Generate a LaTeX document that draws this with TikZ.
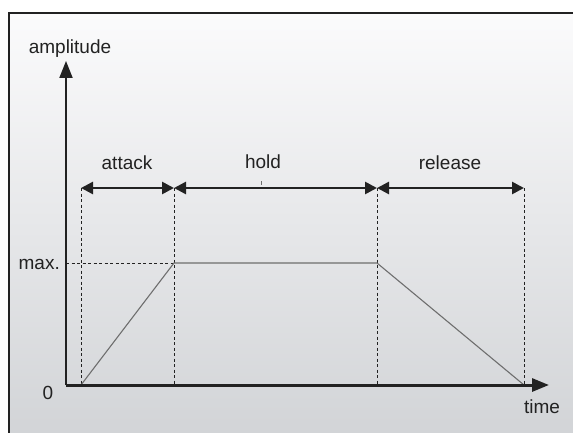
\documentclass[tikz,border=0pt]{standalone}
\usepackage{fontspec}
\setmainfont{Liberation Sans}
\usetikzlibrary{arrows.meta}
\definecolor{ink}{HTML}{222222}
\definecolor{env}{HTML}{6E6E6E}
\definecolor{bgtop}{HTML}{FBFBFC}
\definecolor{bgbot}{HTML}{D2D4D7}
\tikzset{
  lbl/.style={font=\fontsize{19}{22}\selectfont, text=ink, inner sep=0pt},
  axis/.style={draw=ink, -{Triangle[length=17pt,width=13pt]}},
  dim/.style={draw=ink, line width=2.6pt, {Triangle[length=12pt,width=12pt]}-{Triangle[length=12pt,width=12pt]}, shorten <=0pt, shorten >=0pt},
  guide/.style={draw=ink, line width=0.8pt, dash pattern=on 3pt off 2.5pt},
  envl/.style={draw=env, line width=1.1pt}
}
\begin{document}
\begin{tikzpicture}[x=1pt,y=-1pt]
\useasboundingbox (0,0) rectangle (573,433);
\shade[top color=bgtop, bottom color=bgbot] (9,13) rectangle (575,435);
\draw[draw=ink, line width=2.2pt] (575,13) -- (9,13) -- (9,435);
% key points
\coordinate (O) at (66,385);
\coordinate (ytip) at (66,61);
\coordinate (xtip) at (549,385);
\coordinate (p0) at (81,385);
\coordinate (p1) at (174,263);
\coordinate (p2) at (377,263);
\coordinate (p3) at (524,385);
\coordinate (maxl) at (66,263);
\coordinate (t0) at (81,188);
\coordinate (t1) at (174,188);
\coordinate (t2) at (377,188);
\coordinate (t3) at (524,188);
\coordinate (tickA) at (261,181);
\coordinate (tickB) at (261,184.5);
% guides
\draw[guide] (t0) -- (p0);
\draw[guide] (t1) -- (p1 |- O);
\draw[guide] (t2) -- (p2 |- O);
\draw[guide] (t3) -- (p3);
\draw[guide] (maxl) -- (p1);
% envelope
\draw[envl] (p0) -- (p1) -- (p2) -- (p3);
% axes
\draw[axis, line width=2pt] (O) -- (ytip);
\draw[axis, line width=3pt] (O) -- (xtip);
% dimension arrows
\draw[dim] (t0) -- (t1);
\draw[dim] (t1) -- (t2);
\draw[dim] (t2) -- (t3);
\draw[draw=env, line width=0.8pt] (tickA) -- (tickB);
% labels
\node[lbl] (amp) at (70,49) {amplitude};
\node[lbl] (time) at (542,407) {time};
\node[lbl] (zero) at (48,393) {0};
\node[lbl, anchor=east] (max) at (60,264) {max.};
\node[lbl] (attack) at (127,163) {attack};
\node[lbl] (hold) at (263,162) {hold};
\node[lbl] (release) at (450,163) {release};
\end{tikzpicture}
\end{document}
